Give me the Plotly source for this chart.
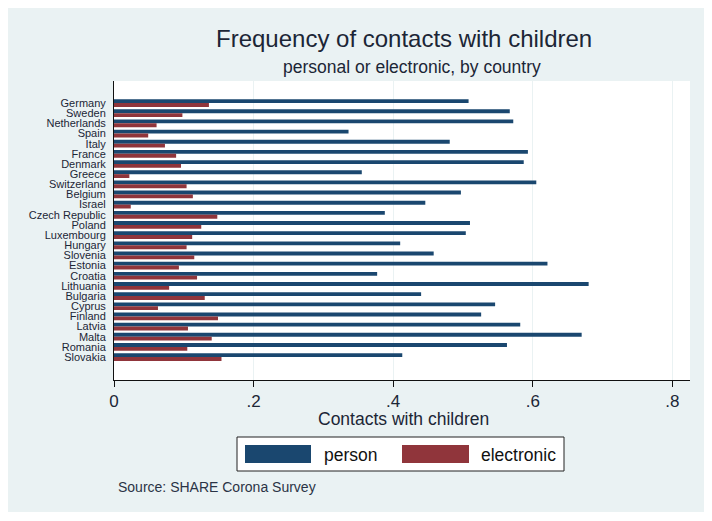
import plotly.graph_objects as go

countries = ["Germany", "Sweden", "Netherlands", "Spain", "Italy", "France", "Denmark",
             "Greece", "Switzerland", "Belgium", "Israel", "Czech Republic", "Poland",
             "Luxembourg", "Hungary", "Slovenia", "Estonia", "Croatia", "Lithuania",
             "Bulgaria", "Cyprus", "Finland", "Latvia", "Malta", "Romania", "Slovakia"]
person = [0.508, 0.567, 0.572, 0.336, 0.481, 0.593, 0.587, 0.355, 0.605, 0.497, 0.446,
          0.388, 0.510, 0.504, 0.410, 0.458, 0.621, 0.377, 0.680, 0.440, 0.546, 0.526,
          0.582, 0.670, 0.563, 0.413]
electronic = [0.136, 0.098, 0.061, 0.049, 0.073, 0.089, 0.096, 0.022, 0.104, 0.113,
              0.024, 0.148, 0.125, 0.112, 0.104, 0.115, 0.093, 0.119, 0.079, 0.130,
              0.063, 0.149, 0.106, 0.140, 0.105, 0.154]
x_ticks = [0, 0.2, 0.4, 0.6, 0.8]
x_ticktext = ["0", ".2", ".4", ".6", ".8"]

NAVY = "#1A476F"
MAROON = "#90353B"
BG = "#EAF2F3"
TXT = "#1c2636"
FONT = "Liberation Sans"

# page body margin offsets the figure by 8px; layout expressed in reference pixels
OFF = 8
W, H = 712 - OFF, 521 - OFF
L, R, T, B = 114 - OFF, 690 - OFF, 81 - OFF, 380 - OFF


def px(x):
    return (x - OFF - L) / (R - L)


def py(y):
    return (B - (y - OFF)) / (B - T)


fig = go.Figure()
fig.add_trace(go.Bar(y=countries, x=person, orientation="h", name="person",
                     marker=dict(color=NAVY, line=dict(width=0))))
fig.add_trace(go.Bar(y=countries, x=electronic, orientation="h", name="electronic",
                     marker=dict(color=MAROON, line=dict(width=0))))

shapes = [
    # outer panel
    dict(type="rect", xref="paper", yref="paper", x0=px(7), x1=px(704), y0=py(512), y1=py(6),
         fillcolor=BG, line=dict(width=0), layer="below"),
    # plot region
    dict(type="rect", xref="paper", yref="paper", x0=0, x1=1, y0=0, y1=1,
         fillcolor="white", line=dict(width=0), layer="below"),
    # legend box
    dict(type="rect", xref="paper", yref="paper", x0=px(237), x1=px(564), y0=py(471), y1=py(437),
         fillcolor="white", line=dict(color="#222222", width=1)),
    dict(type="rect", xref="paper", yref="paper", x0=px(245), x1=px(311), y0=py(463), y1=py(445),
         fillcolor=NAVY, line=dict(width=0)),
    dict(type="rect", xref="paper", yref="paper", x0=px(402), x1=px(469), y0=py(463), y1=py(445),
         fillcolor=MAROON, line=dict(width=0)),
]

annotations = [
    dict(text="Frequency of contacts with children", x=px(403.5), y=py(38), xref="paper", yref="paper",
         showarrow=False, xanchor="center", yanchor="middle", font=dict(size=24, color=TXT, family=FONT)),
    dict(text="personal or electronic, by country", x=px(411.5), y=py(67), xref="paper", yref="paper",
         showarrow=False, xanchor="center", yanchor="middle", font=dict(size=17.5, color=TXT, family=FONT)),
    dict(text="Contacts with children", x=px(403), y=py(419), xref="paper", yref="paper",
         showarrow=False, xanchor="center", yanchor="middle", font=dict(size=17.5, color=TXT, family=FONT)),
    dict(text="person", x=px(322), y=py(455), xref="paper", yref="paper",
         showarrow=False, xanchor="left", yanchor="middle", font=dict(size=17.5, color="#111111", family=FONT)),
    dict(text="electronic", x=px(479), y=py(455), xref="paper", yref="paper",
         showarrow=False, xanchor="left", yanchor="middle", font=dict(size=17.5, color="#111111", family=FONT)),
    dict(text="Source: SHARE Corona Survey", x=px(116), y=py(487), xref="paper", yref="paper",
         showarrow=False, xanchor="left", yanchor="middle", font=dict(size=14, color="#2a3446", family=FONT)),
]

n = len(countries)
fig.update_layout(
    width=W, height=H,
    margin=dict(l=L, r=W - R, t=T, b=H - B, pad=0),
    paper_bgcolor="white",
    plot_bgcolor="rgba(0,0,0,0)",
    barmode="group", bargap=0.24, bargroupgap=0,
    showlegend=False,
    shapes=shapes,
    annotations=annotations,
    font=dict(family=FONT, color=TXT),
    xaxis=dict(range=[0, (R - L) / 698.0], tickvals=x_ticks, ticktext=x_ticktext,
               automargin=False,
               showgrid=True, gridcolor=BG, gridwidth=1, zeroline=False,
               showline=True, linecolor="#111111", linewidth=1,
               ticks="outside", ticklen=6, tickcolor="#111111",
               tickfont=dict(size=17, color=TXT, family=FONT)),
    yaxis=dict(type="category", range=[n - 1 + 2.26, -2.17],
               tickmode="array", tickvals=countries, ticktext=countries,
               automargin=False,
               showgrid=False, zeroline=False,
               showline=True, linecolor="#111111", linewidth=1,
               ticks="outside", ticklen=5, tickcolor="rgba(0,0,0,0)",
               tickfont=dict(size=11, color=TXT, family=FONT)),
)

fig.write_html("out.html")
